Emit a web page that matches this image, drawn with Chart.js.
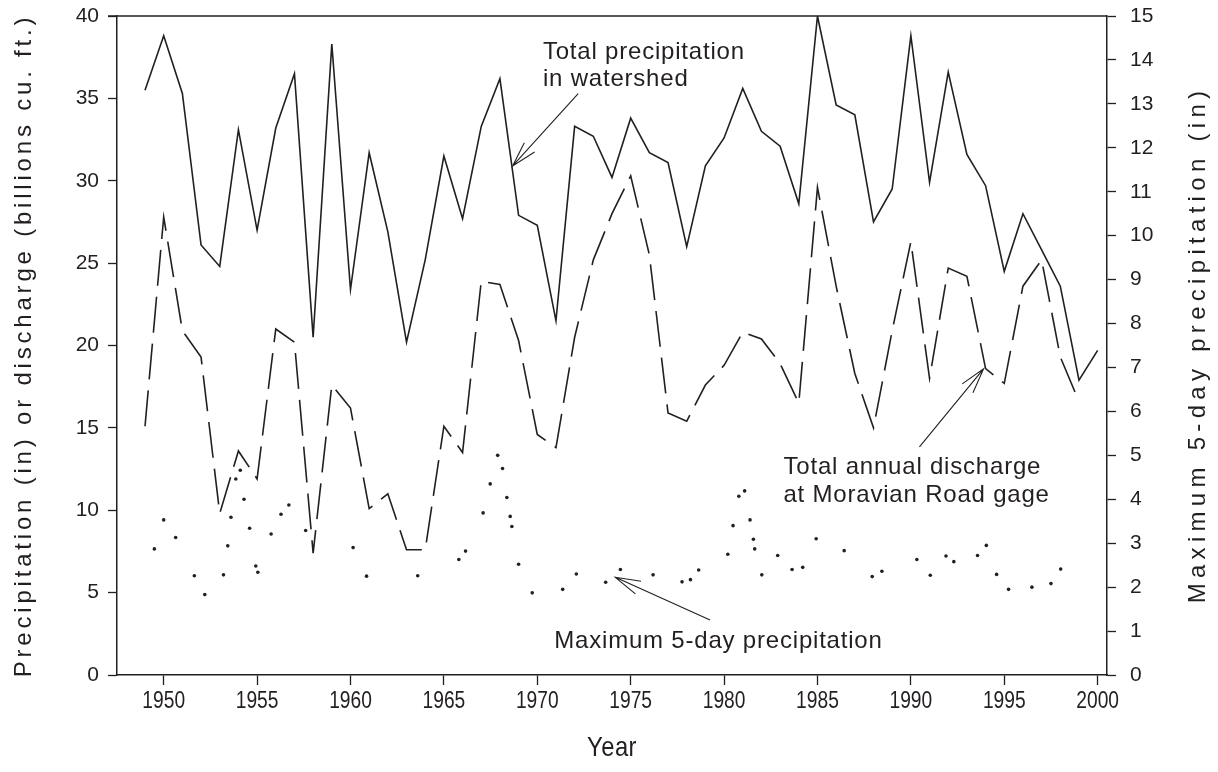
<!DOCTYPE html>
<html>
<head>
<meta charset="utf-8">
<script src="https://cdn.jsdelivr.net/npm/chart.js@4.4.1/dist/chart.umd.min.js"></script>
<style>
  html, body { margin: 0; padding: 0; background: #fff; }
</style>
</head>
<body>
<canvas id="chart" width="1218" height="772"></canvas>
<script>
// annual series, one value per year
const YEARS = [
  1949, 1950, 1951, 1952, 1953, 1954, 1955, 1956, 1957, 1958,
  1959, 1960, 1961, 1962, 1963, 1964, 1965, 1966, 1967, 1968,
  1969, 1970, 1971, 1972, 1973, 1974, 1975, 1976, 1977, 1978,
  1979, 1980, 1981, 1982, 1983, 1984, 1985, 1986, 1987, 1988,
  1989, 1990, 1991, 1992, 1993, 1994, 1995, 1996, 1997, 1998,
  1999, 2000
];
const TOTAL_PRECIP = [
  35.5, 38.8, 35.3, 26.1, 24.8, 33.1, 27.0, 33.2, 36.5, 20.5,
  38.3, 23.4, 31.7, 26.9, 20.2, 25.2, 31.5, 27.7, 33.3, 36.2,
  27.9, 27.3, 21.5, 33.3, 32.7, 30.2, 33.8, 31.7, 31.1, 26.0,
  30.9, 32.6, 35.6, 33.0, 32.1, 28.6, 40.0, 34.6, 34.0, 27.5,
  29.5, 38.8, 29.9, 36.6, 31.6, 29.7, 24.5, 28.0, 25.8, 23.6,
  17.9, 19.7
];
const DISCHARGE = [
  15.1, 27.8, 20.9, 19.3, 9.8, 13.6, 11.9, 21.0, 20.2, 7.4,
  17.6, 16.2, 10.1, 11.0, 7.6, 7.6, 15.1, 13.5, 23.9, 23.7,
  20.3, 14.6, 13.8, 20.5, 25.2, 28.0, 30.3, 25.5, 15.9, 15.4,
  17.6, 18.8, 20.8, 20.4, 18.9, 16.5, 29.6, 23.6, 18.3, 15.0,
  20.9, 26.3, 18.0, 24.7, 24.2, 18.6, 17.7, 23.6, 25.2, 19.3,
  16.6, null
];

// maximum 5-day precipitation events (decimal year, inches)
const MAX5_DATES = [
  1949.5, 1950.0, 1950.64, 1951.64, 1952.2, 1953.2, 1953.43, 1953.6, 1953.86, 1954.1,
  1954.3, 1954.6, 1954.93, 1955.04, 1955.75, 1956.28, 1956.7, 1957.6, 1960.14, 1960.86,
  1963.6, 1965.8, 1966.16, 1967.1, 1967.48, 1967.88, 1968.14, 1968.37, 1968.55, 1968.64,
  1969.0, 1969.73, 1971.36, 1972.09, 1973.66, 1974.45, 1976.2, 1977.75, 1978.2, 1978.64,
  1980.2, 1980.48, 1980.79, 1981.1, 1981.39, 1981.57, 1981.64, 1982.02, 1982.87, 1983.64,
  1984.21, 1984.93, 1986.43, 1987.93, 1988.45, 1990.32, 1991.04, 1991.88, 1992.3, 1993.57,
  1994.04, 1994.59, 1995.23, 1996.48, 1997.5, 1998.02
];
const MAX5_VALUES = [
  2.87, 3.53, 3.13, 2.26, 1.83, 2.28, 2.94, 3.59, 4.46, 4.66,
  4.0, 3.34, 2.48, 2.34, 3.21, 3.66, 3.87, 3.29, 2.9, 2.25,
  2.26, 2.63, 2.82, 3.69, 4.35, 5.0, 4.7, 4.04, 3.61, 3.38,
  2.52, 1.87, 1.95, 2.3, 2.11, 2.4, 2.28, 2.12, 2.17, 2.39,
  2.75, 3.4, 4.07, 4.19, 3.53, 3.09, 2.87, 2.28, 2.72, 2.4,
  2.45, 3.1, 2.83, 2.24, 2.36, 2.63, 2.27, 2.71, 2.58, 2.72,
  2.95, 2.29, 1.95, 2.0, 2.08, 2.41
];

const YEAR_TICKS = [1950, 1955, 1960, 1965, 1970, 1975, 1980, 1985, 1990, 1995, 2000];

const INK = '#231f20';
const SANS = "'Liberation Sans', Arial, Helvetica, sans-serif";

function drawText(ctx, text, x, y, font, spacing, align, rot, squeeze) {
  ctx.save();
  ctx.translate(x, y);
  if (rot) ctx.rotate(rot);
  if (squeeze) ctx.scale(squeeze, 1);
  ctx.font = font;
  ctx.letterSpacing = spacing + 'px';
  ctx.fillStyle = INK;
  ctx.textAlign = align;
  ctx.textBaseline = (rot || squeeze) ? 'middle' : 'alphabetic';
  ctx.fillText(text, 0, 0);
  ctx.restore();
}

// open-headed arrow from tail to tip
function drawArrow(ctx, x1, y1, x2, y2) {
  const a = Math.atan2(y1 - y2, x1 - x2);
  const len = 26, spread = 0.27;
  ctx.save();
  ctx.strokeStyle = INK;
  ctx.lineWidth = 1.1;
  ctx.beginPath();
  ctx.moveTo(x1, y1);
  ctx.lineTo(x2, y2);
  ctx.moveTo(x2 + len * Math.cos(a - spread), y2 + len * Math.sin(a - spread));
  ctx.lineTo(x2, y2);
  ctx.lineTo(x2 + len * Math.cos(a + spread), y2 + len * Math.sin(a + spread));
  ctx.stroke();
  ctx.restore();
}

// frame top, narrow year labels, axis titles and the three labelled arrows
const notesPlugin = {
  id: 'notes',
  afterDraw(chart) {
    const ctx = chart.ctx;
    const area = chart.chartArea;
    const sx = chart.scales.x, sy = chart.scales.y;
    const px = v => sx.getPixelForValue(v);
    const py = v => sy.getPixelForValue(v);

    ctx.save();
    ctx.strokeStyle = INK;
    ctx.lineWidth = 1.5;
    ctx.beginPath();
    ctx.moveTo(area.left - 9, area.top);
    ctx.lineTo(area.right, area.top);
    ctx.stroke();
    ctx.restore();

    sx.ticks.forEach(t => {
      drawText(ctx, String(t.value), px(t.value), area.bottom + 26, '24px ' + SANS, 0, 'center', 0, 0.8);
    });
    drawText(ctx, 'Year', (area.left + area.right) / 2, area.bottom + 73, '28px ' + SANS, 0.5, 'center', 0, 0.85);

    const midY = (area.top + area.bottom) / 2;
    drawText(ctx, 'Precipitation (in) or discharge (billions cu. ft.)', 24, midY,
      '24px ' + SANS, 3.8, 'center', -Math.PI / 2);
    drawText(ctx, 'Maximum 5-day precipitation (in)', 1198, midY - 1,
      '24px ' + SANS, 5.3, 'center', -Math.PI / 2);

    const noteFont = '24px ' + SANS;
    drawText(ctx, 'Total precipitation', px(1970.3), py(37.41), noteFont, 0.8, 'left');
    drawText(ctx, 'in watershed', px(1970.3), py(35.73), noteFont, 0.8, 'left');
    drawArrow(ctx, px(1972.19), py(35.29), px(1968.68), py(30.9));

    drawText(ctx, 'Total annual discharge', px(1983.18), py(12.19), noteFont, 0.8, 'left');
    drawText(ctx, 'at Moravian Road gage', px(1983.18), py(10.5), noteFont, 0.8, 'left');
    drawArrow(ctx, px(1990.46), py(13.85), px(1993.89), py(18.58));

    drawText(ctx, 'Maximum 5-day precipitation', px(1970.91), py(1.64), noteFont, 0.8, 'left');
    drawArrow(ctx, px(1979.25), py(3.34), px(1974.18), py(5.93));
  }
};

const axisGrid = { drawOnChartArea: false, tickLength: 9, color: INK, tickWidth: 1.3 };
const axisBorder = { color: INK, width: 1.5 };

// fixed axis widths, and no extra room for the end labels
function fixWidth(w) {
  return s => { s.width = w; s.paddingTop = 0; s.paddingBottom = 0; };
}

new Chart(document.getElementById('chart'), {
  data: {
    datasets: [
      {
        type: 'line',
        label: 'Total precipitation in watershed',
        data: YEARS.map((yr, i) => ({ x: yr, y: TOTAL_PRECIP[i] })),
        borderColor: INK,
        borderWidth: 1.6,
        pointRadius: 0,
        tension: 0,
        yAxisID: 'y'
      },
      {
        type: 'line',
        label: 'Total annual discharge at Moravian Road gage',
        data: YEARS.map((yr, i) => ({ x: yr, y: DISCHARGE[i] })),
        borderColor: INK,
        borderWidth: 1.6,
        borderDash: [36, 11],
        pointRadius: 0,
        tension: 0,
        yAxisID: 'y'
      },
      {
        type: 'scatter',
        label: 'Maximum 5-day precipitation',
        data: MAX5_DATES.map((d, i) => ({ x: d, y: MAX5_VALUES[i] })),
        backgroundColor: INK,
        borderWidth: 0,
        pointRadius: 1.8,
        yAxisID: 'y1'
      }
    ]
  },
  options: {
    responsive: false,
    animation: false,
    layout: { padding: { top: 16, left: 0, right: 0, bottom: 0 } },
    plugins: {
      legend: { display: false },
      tooltip: { enabled: false }
    },
    scales: {
      x: {
        type: 'linear',
        min: 1947.5,
        max: 2000.5,
        afterBuildTicks: s => { s.ticks = YEAR_TICKS.map(v => ({ value: v })); },
        afterFit: s => { s.height = 97; s.paddingLeft = 0; s.paddingRight = 0; },
        ticks: { display: false, autoSkip: false },
        grid: Object.assign({}, axisGrid, { tickLength: 10 }),
        border: axisBorder
      },
      y: {
        position: 'left',
        min: 0,
        max: 40,
        afterFit: fixWidth(117),
        ticks: {
          stepSize: 5,
          font: { family: SANS, size: 21 },
          color: INK,
          padding: 9
        },
        grid: axisGrid,
        border: axisBorder
      },
      y1: {
        position: 'right',
        min: 0,
        max: 15,
        afterFit: fixWidth(111),
        ticks: {
          stepSize: 1,
          font: { family: SANS, size: 21 },
          color: INK,
          padding: 14
        },
        grid: axisGrid,
        border: axisBorder
      }
    }
  },
  plugins: [notesPlugin]
});
</script>
</body>
</html>
